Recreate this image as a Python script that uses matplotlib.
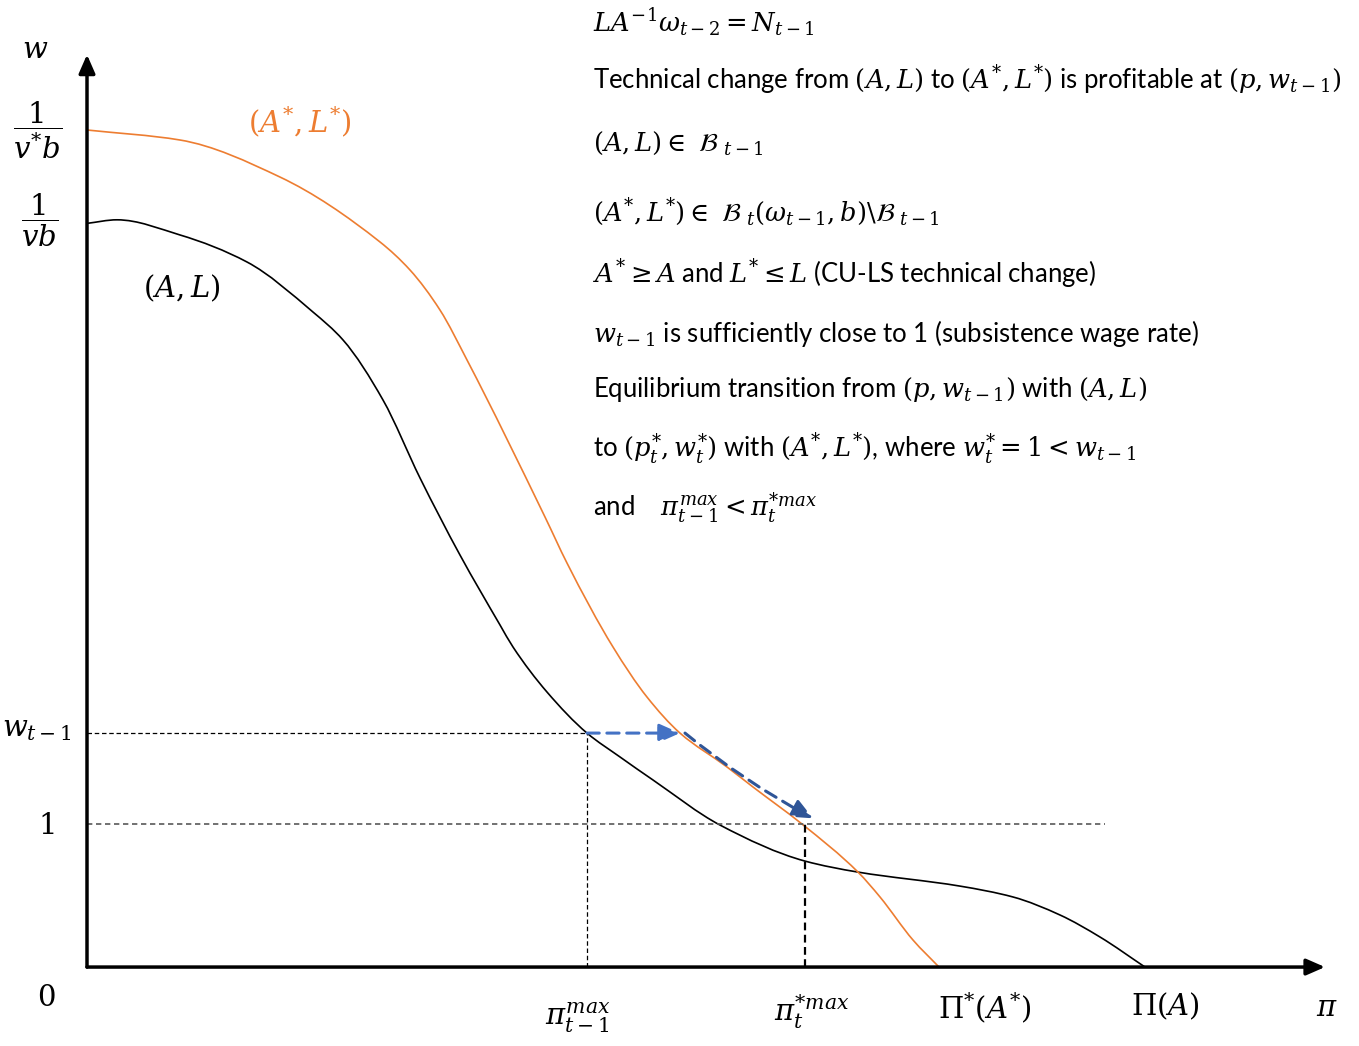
import matplotlib
matplotlib.use('Agg')
import matplotlib.pyplot as plt
from matplotlib.path import Path
from matplotlib.patches import PathPatch
import numpy as np

plt.rcParams['mathtext.fontset'] = 'dejavuserif'
plt.rcParams['font.family'] = ['Lato', 'DejaVu Sans']

# curva de la tecnica (A, L): pi en el eje horizontal, w en el vertical (w = 1 salario de subsistencia)
piAL = [0, 0.30, 0.93, 1.60, 2.26, 2.56, 2.96, 3.33, 3.73, 4.13, 4.26, 4.60, 5.00,
        5.33, 5.66, 6.33, 7.18, 7.71, 8.73, 9.26, 9.73, 10.13, 10.58]
wAL = [5.20, 5.225, 5.119, 4.93, 4.58, 4.385, 3.965, 3.42, 2.881, 2.392, 2.238, 1.923, 1.636,
       1.469, 1.308, 0.993, 0.741, 0.664, 0.566, 0.49, 0.364, 0.21, 0.0]

# curva de la tecnica (A*, L*)
piStar = [0, 0.93, 1.93, 2.93, 3.23, 3.53, 3.80, 4.58, 4.80, 5.26, 5.60, 5.93,
          6.40, 6.66, 7.15, 7.71, 7.93, 8.26, 8.52]
wStar = [5.853, 5.783, 5.524, 5.07, 4.874, 4.594, 4.245, 3.147, 2.825, 2.238,
         1.888, 1.636, 1.399, 1.259, 1.0, 0.664, 0.49, 0.189, 0.0]

# valores marcados en los ejes
wPrev = 1.636        # w_{t-1}
wSubs = 1.0          # salario de subsistencia
piMaxPrev = 5.00     # pi_{t-1}^max
piMaxStar = 7.18     # pi_t^{*max}
piEndSub = 10.18     # fin de la linea w = 1
transEnd = (7.26, 1.04)

textos = [
    r'$LA^{-1}\omega_{t-2} = N_{t-1}$',
    r'Technical change from $(A, L)$ to $(A^{*}, L^{*})$ is profitable at $(p, w_{t-1})$',
    r'$(A, L) \in\ \mathcal{B}_{\ t-1}$',
    r'$(A^{*}, L^{*}) \in\ \mathcal{B}_{\ t}(\omega_{t-1}, b)\backslash\mathcal{B}_{\ t-1}$',
    r'$A^{*} \geq A$ and $L^{*} \leq L$ (CU-LS technical change)',
    r'$w_{t-1}$ is sufficiently close to 1 (subsistence wage rate)',
    r'Equilibrium transition from $(p, w_{t-1})$ with $(A, L)$',
    r'to $(p^{*}_{t}, w^{*}_{t})$ with $(A^{*}, L^{*})$, where $w^{*}_{t} = 1 < w_{t-1}$',
    r'and    $\pi^{max}_{t-1} < \pi^{*max}_{t}$',
]
textosY = [22, 80, 143, 212, 274, 333, 390, 449, 508]

NARANJA = '#ED7D31'
AZUL = '#4472C4'
AZUL_OSC = '#2F5597'


def curvaSuave(ax, xs, ys, color, lw):
    # curva monotona (pendientes tipo Fritsch-Carlson) dibujada como Bezier cubico
    x = np.asarray(xs, float)
    y = np.asarray(ys, float)
    h = np.diff(x)
    d = np.diff(y) / h
    m = np.zeros_like(x)
    m[0], m[-1] = d[0], d[-1]
    for i in range(1, len(x) - 1):
        if d[i - 1] * d[i] > 0:
            w1 = 2 * h[i] + h[i - 1]
            w2 = h[i] + 2 * h[i - 1]
            m[i] = (w1 + w2) / (w1 / d[i - 1] + w2 / d[i])
    verts = [(x[0], y[0])]
    codes = [Path.MOVETO]
    for i in range(len(x) - 1):
        verts += [(x[i] + h[i] / 3, y[i] + m[i] * h[i] / 3),
                  (x[i + 1] - h[i] / 3, y[i + 1] - m[i + 1] * h[i] / 3),
                  (x[i + 1], y[i + 1])]
        codes += [Path.CURVE4] * 3
    ax.add_patch(PathPatch(Path(verts, codes), facecolor='none', edgecolor=color, lw=lw))


fig = plt.figure(figsize=(13.59, 10.46), dpi=100)
ax = fig.add_axes([0, 0, 1, 1])
ax.set_xlim(-0.87, 12.72)
ax.set_ylim(-0.552, 6.762)
ax.axis('off')

# ejes
flecha = dict(arrowstyle='-|>,head_length=0.8,head_width=0.35', lw=2.5, color='black',
              mutation_scale=14, shrinkA=0, shrinkB=0)
ax.annotate('', xy=(0, 6.38), xytext=(0, 0), arrowprops=flecha)
ax.annotate('', xy=(12.38, 0), xytext=(0, 0), arrowprops=flecha)

# lineas punteadas
ax.plot([0, piMaxPrev], [wPrev, wPrev], color='black', lw=0.9, ls=(0, (3.6, 2.2)))
ax.plot([piMaxPrev, piMaxPrev], [0, wPrev], color='black', lw=0.9, ls=(0, (3.6, 2.2)))
ax.plot([0, piEndSub], [wSubs, wSubs], color='#595959', lw=1.2, ls=(0, (3.2, 2.2)))
ax.plot([piMaxStar, piMaxStar], [0, wSubs], color='black', lw=1.6, ls=(0, (3.5, 2.0)))

# curvas
curvaSuave(ax, piAL, wAL, 'black', 1.2)
curvaSuave(ax, piStar, wStar, NARANJA, 1.2)

# transicion
ax.annotate('', xy=(5.93, wPrev), xytext=(piMaxPrev, wPrev),
            arrowprops=dict(arrowstyle='-|>,head_length=0.9,head_width=0.4', lw=2.2, color=AZUL,
                            ls=(0, (4, 2.5)), mutation_scale=14, shrinkA=0, shrinkB=0))
ax.annotate('', xy=transEnd, xytext=(5.98, wPrev),
            arrowprops=dict(arrowstyle='-|>,head_length=0.9,head_width=0.4', lw=2.2, color=AZUL_OSC,
                            ls=(0, (4, 2.5)), mutation_scale=14, shrinkA=0, shrinkB=0,
                            connectionstyle='arc3,rad=0.05'))


def px(x, y):
    return x / 1359, 1 - y / 1046


# etiquetas de los ejes
fs = 21
fig.text(*px(35, 50), r'$w$', fontsize=fs, ha='center', va='center')
fig.text(*px(38, 130), r'$\dfrac{1}{v^{*}b}$', fontsize=fs, ha='center', va='center')
fig.text(*px(40, 220), r'$\dfrac{1}{vb}$', fontsize=fs, ha='center', va='center')
fig.text(*px(37, 730), r'$w_{t-1}$', fontsize=fs, ha='center', va='center')
fig.text(*px(46, 826), r'$1$', fontsize=fs, ha='center', va='center')
fig.text(*px(46, 998), r'$0$', fontsize=fs, ha='center', va='center')
fig.text(*px(578, 1018), r'$\pi^{max}_{t-1}$', fontsize=fs, ha='center', va='center')
fig.text(*px(812, 1012), r'$\pi^{*max}_{t}$', fontsize=fs, ha='center', va='center')
fig.text(*px(985, 1008), r'$\Pi^{*}(A^{*})$', fontsize=fs, ha='center', va='center')
fig.text(*px(1165, 1006), r'$\Pi(A)$', fontsize=fs, ha='center', va='center')
fig.text(*px(1327, 1008), r'$\pi$', fontsize=fs, ha='center', va='center')
fig.text(*px(182, 288), r'$(A, L)$', fontsize=fs, ha='center', va='center')
fig.text(*px(300, 122), r'$(A^{*}, L^{*})$', fontsize=fs, ha='center', va='center', color=NARANJA)

for t, y in zip(textos, textosY):
    fig.text(*px(593, y), t, fontsize=18.5, ha='left', va='center')

plt.savefig('out.png', dpi=100)
